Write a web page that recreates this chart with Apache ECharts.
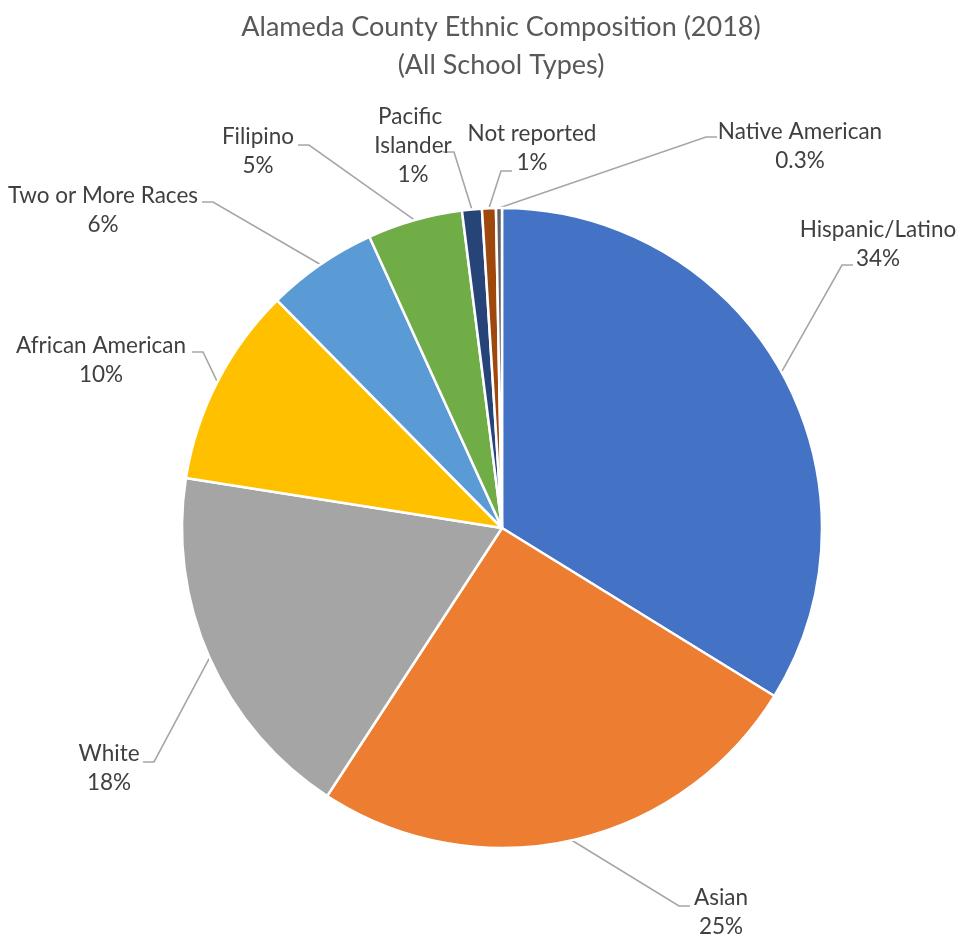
<!DOCTYPE html>
<html>
<head>
<meta charset="utf-8">
<script src="https://cdn.jsdelivr.net/npm/echarts@6/dist/echarts.min.js"></script>
<style>html,body{margin:0;padding:0;background:#fff}#c{width:958px;height:939px}</style>
</head>
<body>
<div id="c"></div>
<script>
// ---- data ----
var categories = ['Hispanic/Latino', 'Asian', 'White', 'African American', 'Two or More Races', 'Filipino', 'Pacific Islander', 'Not reported', 'Native American'];
var values = [33.8, 25.4, 18.3, 10.1, 5.6, 4.8, 1.0, 0.7, 0.3];
var colors = ['#4472C4', '#ED7D31', '#A5A5A5', '#FFC000', '#5B9BD5', '#70AD47', '#264478', '#9E480E', '#636363'];

// ---- label layout (positions of label text, first line centre) ----
var labelCenter = [[878, 230], [721, 898], [109, 754], [101, 346], [103, 196], [258, 137], [413, 117], [532, 134], [800, 132]];
var leaderEnd = [[853, 265], [690, 906], [143, 762], [192, 352], [202, 202], [298, 145], [443, 152], [512, 171], [717, 137]];

var CX = 502, CY = 528, R = 320, LH = 29;
var total = values.reduce(function (a, b) { return a + b; }, 0);
var midAngles = [];
(function () {
  var acc = 0;
  for (var i = 0; i < values.length; i++) {
    midAngles.push((acc + values[i] / 2) / total * 2 * Math.PI);
    acc += values[i];
  }
})();

function pct(v) { return v < 0.5 ? v.toFixed(1) + '%' : Math.round(v) + '%'; }

var chart = echarts.init(document.getElementById('c'), null, { renderer: 'canvas' });
var data = categories.map(function (n, i) {
  var d = { name: n, value: values[i], itemStyle: { color: colors[i] } };
  if (n === 'Pacific Islander') d.label = { width: 90, overflow: 'break' };
  return d;
});

chart.setOption({
  animation: false,
  title: {
    text: 'Alameda County Ethnic Composition (2018)\n(All School Types)',
    left: 496, top: 3, textAlign: 'center',
    textStyle: { fontFamily: 'Lato', fontSize: 27, fontWeight: 'normal', color: '#595959', lineHeight: 38 }
  },
  series: [{
    type: 'pie',
    center: [CX, CY],
    radius: [0, R],
    startAngle: 90,
    clockwise: true,
    data: data,
    itemStyle: { borderColor: '#fff', borderWidth: 2.5 },
    label: {
      show: true,
      overflow: 'none',
      formatter: function (p) { return p.name + '\n' + pct(p.value); },
      fontFamily: 'Lato', fontSize: 22.5, color: '#404040', lineHeight: LH, align: 'center'
    },
    labelLine: { show: true, lineStyle: { color: '#A6A6A6', width: 1.6 } },
    labelLayout: function (p) {
      var i = p.dataIndex;
      var c = labelCenter[i], e = leaderEnd[i];
      var a = midAngles[i];
      var anchor = [CX + R * Math.sin(a), CY - R * Math.cos(a)];
      var elbow = [e[0] + (e[0] < c[0] ? -11 : 11), e[1]];
      return {
        x: c[0], y: c[1] - LH / 2,
        align: 'center', verticalAlign: 'top',
        labelLinePoints: [anchor, elbow, e]
      };
    }
  }]
});
</script>
</body>
</html>
